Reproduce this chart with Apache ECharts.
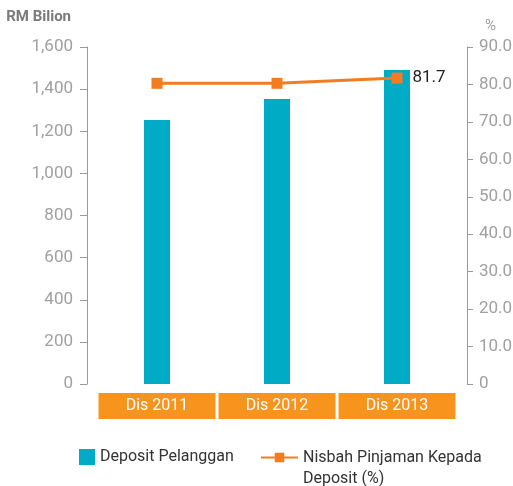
<!DOCTYPE html>
<html>
<head>
<meta charset="utf-8">
<script src="https://cdn.jsdelivr.net/npm/echarts@6/dist/echarts.min.js"></script>
<style>
  html, body { margin: 0; padding: 0; background: #fff; }
  #chart { width: 513px; height: 486px; }
</style>
</head>
<body>
<div id="chart"></div>
<script>
// Deposits (RM billion) and loan-to-deposit ratio (%) by year end
const categories = ['Dis 2011', 'Dis 2012', 'Dis 2013'];
const depositValues = [1253, 1353, 1491];
const ratioValues = [80.3, 80.3, 81.7];
const depositName = 'Deposit Pelanggan';
const ratioName = 'Nisbah Pinjaman Kepada Deposit (%)';

const FONT = '"Roboto", "Liberation Sans", sans-serif';
const AXIS_GREY = '#9a9a9a';
const LABEL_GREY = '#a0a0a0';
const TEAL = '#00abc5';
const ORANGE = '#f47c20';
const BAND_ORANGE = '#f7941d';

const chart = echarts.init(document.getElementById('chart'));

chart.setOption({
  animation: false,
  textStyle: { fontFamily: FONT },
  grid: { left: 97, right: 56, top: 47, bottom: 102, outerBoundsMode: 'none' },
  legend: [
    {
      data: [depositName],
      left: 79, top: 449,
      padding: 0,
      itemWidth: 16, itemHeight: 16,
      icon: 'rect',
      textStyle: { fontFamily: FONT, fontSize: 16, color: '#333' }
    },
    {
      data: [ratioName],
      left: 260, top: 426,
      padding: 0,
      itemWidth: 37, itemHeight: 12,
      // leading blank line keeps the first text line level with the icon
      formatter: () => '\nNisbah Pinjaman Kepada\nDeposit (%)',
      textStyle: { fontFamily: FONT, fontSize: 16, color: '#333', lineHeight: 21 }
    }
  ],
  xAxis: {
    type: 'category',
    data: categories,
    axisLine: { show: false },
    axisTick: { show: false },
    axisLabel: {
      margin: 9,
      color: '#fff',
      fontFamily: FONT,
      fontSize: 16,
      backgroundColor: BAND_ORANGE,
      width: 117,
      height: 26,
      lineHeight: 26,
      align: 'center'
    }
  },
  yAxis: [
    {
      type: 'value',
      min: 0, max: 1600, interval: 200,
      offset: 10,
      name: 'RM Bilion',
      nameGap: 22,
      nameTextStyle: { align: 'right', padding: [0, 16, 0, 0], color: '#7a7a7a', fontWeight: 'bold', fontSize: 15, fontFamily: FONT },
      axisLine: { show: true, lineStyle: { color: AXIS_GREY } },
      axisTick: { show: true, length: 7, lineStyle: { color: AXIS_GREY } },
      splitLine: { show: false },
      axisLabel: {
        color: LABEL_GREY, fontSize: 17, fontFamily: FONT, margin: 14,
        formatter: v => v.toLocaleString('en-US')
      }
    },
    {
      type: 'value',
      min: 0, max: 90, interval: 10,
      offset: 10,
      position: 'right',
      name: '%',
      nameGap: 13,
      nameTextStyle: { align: 'left', padding: [0, 0, 0, 18], color: LABEL_GREY, fontSize: 15, fontFamily: FONT },
      axisLine: { show: true, lineStyle: { color: AXIS_GREY } },
      axisTick: { show: true, length: 6, lineStyle: { color: AXIS_GREY } },
      splitLine: { show: false },
      axisLabel: {
        color: LABEL_GREY, fontSize: 17, fontFamily: FONT, margin: 12,
        formatter: v => v === 0 ? '0' : v.toFixed(1)
      }
    }
  ],
  series: [
    {
      name: depositName,
      type: 'bar',
      data: depositValues,
      barWidth: 26,
      itemStyle: { color: TEAL }
    },
    {
      name: ratioName,
      type: 'line',
      yAxisIndex: 1,
      data: ratioValues.map((v, i) => i === ratioValues.length - 1
        ? { value: v, label: { show: true, position: 'right', distance: 10, color: '#222', fontSize: 17, fontFamily: FONT, formatter: p => p.value.toFixed(1) } }
        : v),
      symbol: 'rect',
      symbolSize: 11,
      lineStyle: { color: ORANGE, width: 3 },
      itemStyle: { color: ORANGE }
    }
  ]
});
</script>
</body>
</html>
